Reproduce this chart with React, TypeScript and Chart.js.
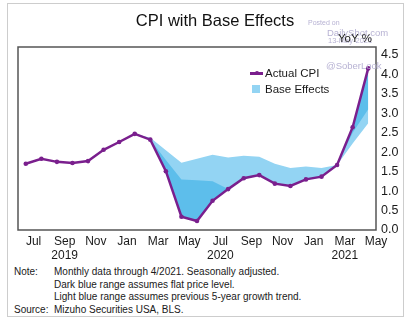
import React, { useEffect, useRef } from 'react';
import { Chart, registerables } from 'chart.js';

Chart.register(...registerables);

// Monthly observations, Jun 2019 .. Apr 2021
const months = [
  'Jun 2019', 'Jul 2019', 'Aug 2019', 'Sep 2019', 'Oct 2019', 'Nov 2019', 'Dec 2019',
  'Jan 2020', 'Feb 2020', 'Mar 2020', 'Apr 2020', 'May 2020', 'Jun 2020', 'Jul 2020',
  'Aug 2020', 'Sep 2020', 'Oct 2020', 'Nov 2020', 'Dec 2020',
  'Jan 2021', 'Feb 2021', 'Mar 2021', 'Apr 2021',
];

const actualCPI = [
  1.70, 1.83, 1.75, 1.72, 1.77, 2.06, 2.26,
  2.47, 2.32, 1.51, 0.34, 0.23, 0.75, 1.05,
  1.33, 1.41, 1.19, 1.13, 1.30,
  1.37, 1.67, 2.64, 4.15,
];

// Dark blue range: flat price level assumption
const flatPriceBound = [
  null, null, null, null, null, null, null,
  null, 2.32, 1.80, 1.30, 1.28, 1.25, 1.05,
  null, null, null, null, null,
  null, 1.67, 2.50, 3.10,
];

// Light blue range: previous 5-year growth trend assumption
const trendBound = [
  null, null, null, null, null, null, null,
  2.47, 2.37, 2.05, 1.73, 1.83, 1.93, 1.86,
  1.91, 1.88, 1.70, 1.59, 1.63,
  1.59, 1.67, 2.22, 2.74,
];

const xTickMonths = ['Jul', 'Sep', 'Nov', 'Jan', 'Mar', 'May', 'Jul', 'Sep', 'Nov', 'Jan', 'Mar', 'May'];
const xTickYears = ['', '2019', '', '', '', '', '2020', '', '', '', '2021', ''];
const yTicks = [0, 0.5, 1, 1.5, 2, 2.5, 3, 3.5, 4, 4.5];

const FONT = '"Liberation Sans", Arial, sans-serif';
const PURPLE = '#7a1f8d';
const LIGHT_BLUE = '#93d4f3';
const DARK_BLUE = '#5dbeeb';
const TEXT = '#1a1a1a';
const WATERMARK = '#b7b2d3';

const frameBorder = {
  id: 'frameBorder',
  afterDraw(chart: any) {
    const { ctx, chartArea } = chart;
    ctx.save();
    ctx.strokeStyle = '#555555';
    ctx.lineWidth = 1.5;
    ctx.strokeRect(chartArea.left, chartArea.top, chartArea.right - chartArea.left, chartArea.bottom - chartArea.top);
    ctx.restore();
  },
};

export default function App() {
  const ref = useRef<HTMLCanvasElement>(null);

  useEffect(() => {
    const toPts = (arr: (number | null)[]) => months.map((_, i) => ({ x: i, y: arr[i] }));
    const chart = new Chart(ref.current as HTMLCanvasElement, {
      type: 'line',
      data: {
        datasets: [
          {
            label: 'Actual CPI',
            data: toPts(actualCPI),
            borderColor: PURPLE,
            backgroundColor: PURPLE,
            borderWidth: 2.5,
            pointRadius: 2.3,
            pointBorderWidth: 0,
            pointBackgroundColor: PURPLE,
            fill: false,
            order: 0,
          },
          {
            label: 'Flat price level',
            data: toPts(flatPriceBound),
            borderColor: 'rgba(0,0,0,0)',
            borderWidth: 0,
            pointRadius: 0,
            backgroundColor: DARK_BLUE,
            fill: '0',
            spanGaps: false,
            order: 1,
          },
          {
            label: 'Base Effects',
            data: toPts(trendBound),
            borderColor: 'rgba(0,0,0,0)',
            borderWidth: 0,
            pointRadius: 0,
            backgroundColor: LIGHT_BLUE,
            fill: '0',
            spanGaps: false,
            order: 2,
          },
        ] as any,
      },
      options: {
        responsive: false,
        animation: false,
        layout: { padding: { left: 18, right: 0, top: 0, bottom: 0 } },
        elements: { line: { tension: 0 } },
        plugins: {
          legend: { display: false },
          tooltip: { enabled: false },
          title: {
            display: true,
            text: 'CPI with Base Effects',
            color: '#111111',
            font: { family: FONT, size: 16.5, weight: 'normal' },
            padding: { top: 12, bottom: 15.2 },
          },
        },
        scales: {
          x: {
            type: 'linear',
            min: -0.5,
            max: months.length - 0.5,
            grid: { display: false, drawTicks: false },
            border: { display: false },
            afterBuildTicks: (scale: any) => {
              scale.ticks = xTickMonths.map((_, k) => ({ value: 0.5 + 2 * k }));
            },
            afterFit: (scale: any) => {
              scale.height = 32;
            },
            ticks: {
              autoSkip: false,
              maxRotation: 0,
              padding: 4,
              color: TEXT,
              font: { family: FONT, size: 12 },
              callback: (_v: any, i: number) => (xTickYears[i] ? [xTickMonths[i], xTickYears[i]] : xTickMonths[i]),
            },
          },
          y: {
            position: 'right',
            min: 0,
            max: 4.7,
            grid: { display: false, drawTicks: false },
            border: { display: false },
            afterBuildTicks: (scale: any) => {
              scale.ticks = yTicks.map((v) => ({ value: v }));
            },
            afterFit: (scale: any) => {
              scale.width = 36;
            },
            ticks: {
              padding: 5,
              color: TEXT,
              font: { family: FONT, size: 12.5 },
              callback: (v: any) => Number(v).toFixed(1),
            },
          },
        },
      } as any,
      plugins: [frameBorder],
    });
    return () => chart.destroy();
  }, []);

  const wm = (text: string, left: number, cy: number, size: number) => (
    <div
      style={{
        position: 'absolute', left, top: cy - size / 2, fontSize: size, lineHeight: `${size}px`,
        color: WATERMARK, whiteSpace: 'nowrap', fontFamily: FONT,
      }}
    >
      {text}
    </div>
  );

  const noteRow = (label: string, text: string, cy: number) => (
    <div style={{ position: 'absolute', left: 0, top: cy - 6, height: 12, lineHeight: '12px', fontSize: 10, whiteSpace: 'nowrap', color: TEXT }}>
      <span style={{ position: 'absolute', left: 14 }}>{label}</span>
      <span style={{ position: 'absolute', left: 54 }}>{text}</span>
    </div>
  );

  return (
    <div style={{ position: 'absolute', left: 0, top: 0, width: 412, height: 324, fontFamily: FONT, background: '#ffffff' }}>
      <div style={{ position: 'absolute', left: 7, top: 3, width: 395, height: 312, border: '1px solid #cdcdcd' }} />
      <canvas ref={ref} width={412} height={262} style={{ position: 'absolute', left: 0, top: 0, width: 412, height: 262 }} />

      {wm('Posted on', 308, 22, 7)}
      {wm('DailyShot.com', 327, 33, 9.5)}
      {wm('13-May-2021', 328, 41, 7.5)}
      {wm('@SoberLook', 326, 66, 9.5)}

      <div style={{ position: 'absolute', left: 338, top: 32, fontSize: 11.5, lineHeight: '13px', color: TEXT, whiteSpace: 'nowrap' }}>YoY %</div>

      {/* legend */}
      <div style={{ position: 'absolute', left: 250, top: 72, width: 13, height: 2.5, background: PURPLE }} />
      <div style={{ position: 'absolute', left: 254.5, top: 71.2, width: 4.2, height: 4.2, borderRadius: '50%', background: PURPLE }} />
      <div style={{ position: 'absolute', left: 265, top: 66, fontSize: 11.5, lineHeight: '14px', color: TEXT, whiteSpace: 'nowrap' }}>Actual CPI</div>
      <div style={{ position: 'absolute', left: 252, top: 85, width: 8, height: 8, background: LIGHT_BLUE }} />
      <div style={{ position: 'absolute', left: 265, top: 82, fontSize: 11.5, lineHeight: '14px', color: TEXT, whiteSpace: 'nowrap' }}>Base Effects</div>

      {/* notes */}
      {noteRow('Note:', 'Monthly data through 4/2021. Seasonally adjusted.', 272)}
      {noteRow('', 'Dark blue range assumes flat price level.', 284.5)}
      {noteRow('', 'Light blue range assumes previous 5-year growth trend.', 297)}
      {noteRow('Source:', 'Mizuho Securities USA, BLS.', 309.5)}
    </div>
  );
}
